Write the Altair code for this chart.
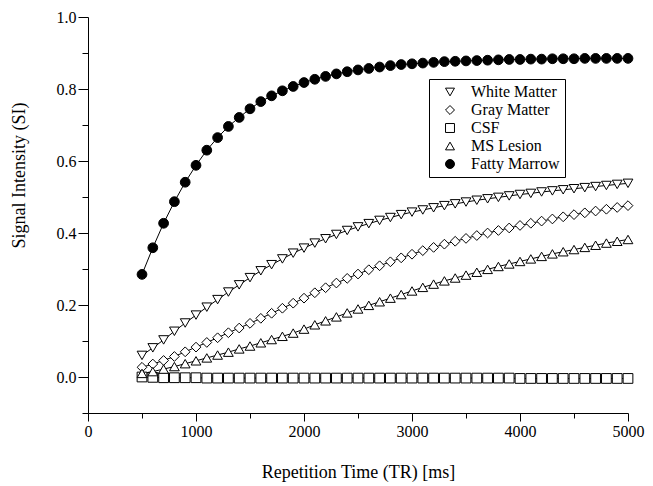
import altair as alt
import pandas as pd

# ---- data ----
tr_ms = [500, 600, 700, 800, 900, 1000, 1100, 1200, 1300, 1400,
         1500, 1600, 1700, 1800, 1900, 2000, 2100, 2200, 2300, 2400,
         2500, 2600, 2700, 2800, 2900, 3000, 3100, 3200, 3300, 3400,
         3500, 3600, 3700, 3800, 3900, 4000, 4100, 4200, 4300, 4400,
         4500, 4600, 4700, 4800, 4900, 5000]

white_matter = [0.060, 0.081, 0.103, 0.127, 0.150, 0.172, 0.194, 0.215, 0.236, 0.256,
                0.276, 0.295, 0.312, 0.328, 0.344, 0.358, 0.372, 0.384, 0.396, 0.407,
                0.417, 0.426, 0.435, 0.443, 0.451, 0.458, 0.464, 0.470, 0.476, 0.481,
                0.486, 0.491, 0.495, 0.499, 0.503, 0.507, 0.510, 0.514, 0.517, 0.520,
                0.523, 0.526, 0.529, 0.532, 0.535, 0.538]

gray_matter = [0.027, 0.036, 0.046, 0.057, 0.070, 0.083, 0.096, 0.109, 0.123, 0.136,
               0.149, 0.163, 0.177, 0.191, 0.205, 0.219, 0.234, 0.248, 0.261, 0.274,
               0.286, 0.298, 0.309, 0.320, 0.331, 0.341, 0.351, 0.360, 0.369, 0.377,
               0.385, 0.393, 0.400, 0.407, 0.414, 0.421, 0.427, 0.433, 0.439, 0.445,
               0.451, 0.456, 0.461, 0.466, 0.471, 0.476]

csf = [0.000, -0.001, -0.002, -0.002, -0.002, -0.002, -0.003, -0.003, -0.003, -0.003,
       -0.003, -0.003, -0.003, -0.003, -0.003, -0.003, -0.003, -0.003, -0.003, -0.003,
       -0.003, -0.003, -0.003, -0.003, -0.003, -0.003, -0.003, -0.003, -0.003, -0.003,
       -0.003, -0.003, -0.003, -0.003, -0.003, -0.004, -0.004, -0.004, -0.004, -0.004,
       -0.004, -0.004, -0.004, -0.004, -0.004, -0.004]

ms_lesion = [0.010, 0.015, 0.022, 0.029, 0.037, 0.045, 0.053, 0.061, 0.069, 0.078,
             0.086, 0.095, 0.104, 0.113, 0.122, 0.133, 0.145, 0.156, 0.167, 0.178,
             0.189, 0.199, 0.209, 0.219, 0.229, 0.239, 0.249, 0.258, 0.267, 0.275,
             0.283, 0.291, 0.299, 0.307, 0.314, 0.321, 0.328, 0.335, 0.342, 0.348,
             0.354, 0.360, 0.366, 0.372, 0.377, 0.382]

fatty_marrow = [0.285, 0.359, 0.427, 0.487, 0.541, 0.588, 0.630, 0.665, 0.696, 0.721,
                0.745, 0.765, 0.781, 0.795, 0.807, 0.818, 0.827, 0.835, 0.842, 0.848,
                0.853, 0.857, 0.861, 0.865, 0.868, 0.870, 0.872, 0.874, 0.876, 0.877,
                0.878, 0.879, 0.880, 0.881, 0.882, 0.882, 0.883, 0.883, 0.884, 0.884,
                0.884, 0.885, 0.885, 0.885, 0.885, 0.885]

series_names = ["White Matter", "Gray Matter", "CSF", "MS Lesion", "Fatty Marrow"]
series_values = [white_matter, gray_matter, csf, ms_lesion, fatty_marrow]
series_shapes = ["triangle-down", "diamond", "square", "triangle-up", "circle"]
series_fills = ["white", "white", "white", "white", "black"]
series_strokes = ["black", "black", "black", "black", "black"]

x_ticks = [0, 500, 1000, 1500, 2000, 2500, 3000, 3500, 4000, 4500, 5000]
y_ticks = [-0.1, 0.0, 0.1, 0.2, 0.3, 0.4, 0.5, 0.6, 0.7, 0.8, 0.9, 1.0]

rows = []
for name, vals in zip(series_names, series_values):
    for t, v in zip(tr_ms, vals):
        rows.append({"TR": t, "SI": v, "Tissue": name})
df = pd.DataFrame(rows)

FONT = "Liberation Serif"

x_enc = alt.X(
    "TR:Q",
    scale=alt.Scale(domain=[0, 5000], nice=False, zero=False),
    axis=alt.Axis(
        values=x_ticks,
        format="d",
        labelExpr="datum.value % 1000 == 0 ? datum.label : ''",
        tickSize={"condition": {"test": "datum.value % 1000 == 0", "value": 8}, "value": 5},
        title="Repetition Time (TR) [ms]",
        titleY=64,
        titleBaseline="alphabetic",
        labelPadding=2,
        labelFlush=False,
        labelOverlap=False,
        grid=False,
    ),
)

y_enc = alt.Y(
    "SI:Q",
    scale=alt.Scale(domain=[-0.1, 1.0], nice=False, zero=False),
    axis=alt.Axis(
        values=y_ticks,
        format=".1f",
        labelExpr="abs(round(datum.value * 10)) % 2 == 0 ? datum.label : ''",
        tickSize={"condition": {"test": "abs(round(datum.value * 10)) % 2 == 0", "value": 10},
                  "value": 6},
        title="Signal Intensity (SI)",
        titleX=-69,
        titleY=158,
        titleAngle=-90,
        titleAlign="center",
        titleBaseline="middle",
        labelPadding=2,
        labelOverlap=False,
        grid=False,
    ),
)

legend = alt.Legend(
    title=None,
    orient="none",
    legendX=341,
    legendY=62,
    strokeColor="black",
    fillColor="white",
    padding=5,
    symbolOffset=8,
    labelOffset=13,
    rowPadding=2,
    symbolSize=80,
    symbolStrokeWidth=1,
    labelFont=FONT,
    labelFontSize=16,
    labelColor="black",
)

lines = alt.Chart(df).mark_line(color="black", strokeWidth=1).encode(
    x=x_enc, y=y_enc, detail="Tissue:N"
)

points = alt.Chart(df).mark_point(
    filled=True, strokeWidth=1, opacity=1, size=95
).encode(
    x=x_enc,
    y=y_enc,
    shape=alt.Shape("Tissue:N", scale=alt.Scale(domain=series_names, range=series_shapes),
                    legend=legend),
    fill=alt.Fill("Tissue:N", scale=alt.Scale(domain=series_names, range=series_fills),
                  legend=legend),
    stroke=alt.Stroke("Tissue:N", scale=alt.Scale(domain=series_names, range=series_strokes),
                      legend=legend),
)

chart = alt.layer(lines, points).properties(
    width=540,
    height=396,
    autosize=alt.AutoSizeParams(type="none"),
    padding={"left": 80, "top": 9, "right": 17, "bottom": 70},
    background="white",
).configure_view(stroke=None).configure_axis(
    domainColor="black",
    domainWidth=1,
    tickColor="black",
    tickWidth=1,
    labelFont=FONT,
    labelFontSize=16,
    labelColor="black",
    titleFont=FONT,
    titleFontSize=18,
    titleFontWeight="normal",
    titleColor="black",
)

chart.save("out.html", embed_options={"renderer": "svg", "actions": False})
